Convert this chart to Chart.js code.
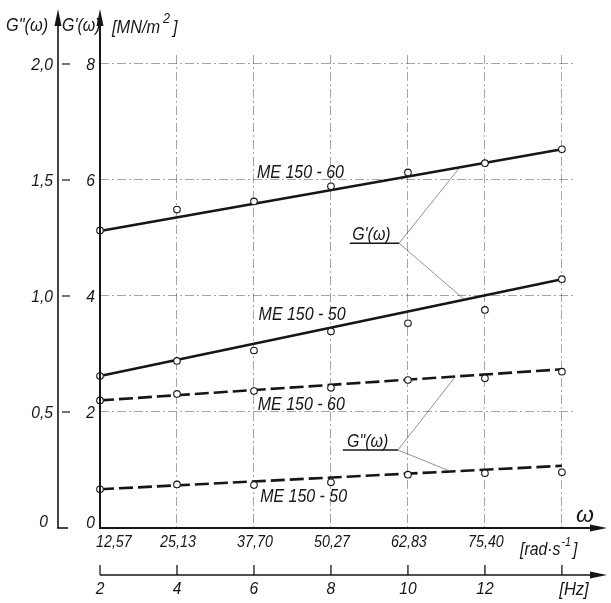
<!DOCTYPE html>
<html>
<head>
<meta charset="utf-8">
<script src="https://cdn.jsdelivr.net/npm/chart.js@4.4.1/dist/chart.umd.min.js"></script>
<style>
  html, body { margin: 0; padding: 0; background: #fff; }
  #wrap { width: 611px; height: 603px; }
</style>
</head>
<body>
<div id="wrap"><canvas id="modulusChart" width="611" height="603"></canvas></div>
<script>
// frequency (Hz) of the measuring points, and the omega scale above it
var freqHz = [2, 4, 6, 8, 10, 12, 14];
var omegaLabels = ["12,57", "25,13", "37,70", "50,27", "62,83", "75,40"];
var hzLabels = ["2", "4", "6", "8", "10", "12"];
var gPrimeTicks = [0, 2, 4, 6, 8];
var gPrimeLabels = ["0", "2", "4", "6", "8"];
var gDoubleTicks = [0, 0.5, 1.0, 1.5, 2.0];
var gDoubleLabels = ["0", "0,5", "1,0", "1,5", "2,0"];

// G'(w) in MN/m2, measured points
var gPrime60 = [5.13, 5.49, 5.63, 5.89, 6.13, 6.29, 6.53];
var gPrime50 = [2.62, 2.88, 3.06, 3.39, 3.53, 3.76, 4.29];
// G''(w) in MN/m2, measured points
var gDouble60 = [0.550, 0.578, 0.590, 0.604, 0.638, 0.645, 0.674];
var gDouble50 = [0.167, 0.188, 0.185, 0.197, 0.230, 0.236, 0.240];

// drawn straight lines, values at 2 and 14 Hz
var fitHz = [2, 14];
var gPrime60Fit = [5.12, 6.53];
var gPrime50Fit = [2.62, 4.29];
var gDouble60Fit = [0.55, 0.684];
var gDouble50Fit = [0.167, 0.268];

var ink = "#161616";
var gridInk = "rgba(40,40,40,0.42)";
var leaderInk = "rgba(60,60,60,0.7)";

function pts(xs, ys) {
  return xs.map(function (x, i) { return { x: x, y: ys[i] }; });
}

function markers(values, axis) {
  return {
    data: pts(freqHz, values),
    yAxisID: axis,
    showLine: false,
    pointRadius: 3.3,
    pointBorderWidth: 1.1,
    pointBackgroundColor: "#fff",
    pointBorderColor: ink,
    clip: false
  };
}

function fitLine(values, axis, dashed) {
  return {
    data: pts(fitHz, values),
    yAxisID: axis,
    borderColor: ink,
    borderWidth: 2.6,
    borderDash: dashed ? [14, 5] : [],
    pointRadius: 0,
    fill: false,
    clip: false
  };
}

// italic, slightly condensed lettering; returns the drawn width
function txt(ctx, s, x, y, size, align, sx) {
  sx = sx || 0.86;
  ctx.save();
  ctx.font = "italic " + size + "px 'Liberation Sans', Arial, sans-serif";
  ctx.textAlign = align || "left";
  ctx.textBaseline = "alphabetic";
  ctx.fillStyle = ink;
  var w = ctx.measureText(s).width * sx;
  ctx.translate(x, y);
  ctx.scale(sx, 1);
  ctx.fillText(s, 0, 0);
  ctx.restore();
  return w;
}

function seg(ctx, x1, y1, x2, y2, w, color) {
  ctx.beginPath();
  ctx.lineWidth = w;
  ctx.strokeStyle = color || ink;
  ctx.moveTo(x1, y1);
  ctx.lineTo(x2, y2);
  ctx.stroke();
}

function arrowUp(ctx, x, y) {
  ctx.beginPath();
  ctx.fillStyle = ink;
  ctx.moveTo(x, y);
  ctx.lineTo(x - 3.5, y + 17);
  ctx.lineTo(x + 3.5, y + 17);
  ctx.closePath();
  ctx.fill();
}

function arrowRight(ctx, x, y) {
  ctx.beginPath();
  ctx.fillStyle = ink;
  ctx.moveTo(x, y);
  ctx.lineTo(x - 17, y - 3.5);
  ctx.lineTo(x - 17, y + 3.5);
  ctx.closePath();
  ctx.fill();
}

var axesPlugin = {
  id: "drawnAxes",
  afterDraw: function (chart) {
    var ctx = chart.ctx;
    var sx = chart.scales.x, sy = chart.scales.y, sy1 = chart.scales.y1;
    var px = function (v) { return sx.getPixelForValue(v); };
    var py = function (v) { return sy.getPixelForValue(v); };
    var py1 = function (v) { return sy1.getPixelForValue(v); };
    var x0 = px(freqHz[0]);
    var yBase = py(0);
    var xG2 = 58;
    var yHz = 575;
    var w;

    ctx.save();
    // G' axis
    seg(ctx, x0, yBase + 1, x0, 24, 2);
    arrowUp(ctx, x0, 9);
    // G'' axis with foot
    seg(ctx, xG2, yBase, xG2, 24, 1.6);
    arrowUp(ctx, xG2, 9);
    seg(ctx, xG2 - 0.8, yBase, xG2 + 10, yBase, 1.6);
    // omega axis
    seg(ctx, x0 - 1, yBase, 592, yBase, 2);
    arrowRight(ctx, 607, yBase);
    // Hz axis
    seg(ctx, x0, yHz, 592, yHz, 1.5);
    arrowRight(ctx, 607, yHz);
    freqHz.forEach(function (f) {
      seg(ctx, px(f), yHz, px(f), yHz - 10, 1.3);
    });

    // G' tick labels
    gPrimeTicks.forEach(function (v, i) {
      var y = v === 0 ? yBase : py(v) + 6;
      txt(ctx, gPrimeLabels[i], x0 - 5, y, 17, "right", 0.92);
    });
    // G'' tick labels and ticks
    gDoubleTicks.forEach(function (v, i) {
      var y = py1(v);
      if (v === 0) {
        txt(ctx, gDoubleLabels[i], xG2 - 10, yBase - 1, 17, "right", 0.92);
      } else {
        txt(ctx, gDoubleLabels[i], xG2 - 5, y + 6, 17, "right", 0.92);
        seg(ctx, xG2 + 4, y, xG2 + 12, y, 1.2);
      }
    });

    // omega labels
    omegaLabels.forEach(function (s, i) {
      var x = px(freqHz[i]);
      if (i === 0) txt(ctx, s, x - 4, yBase + 19, 17, "left", 0.84);
      else txt(ctx, s, x + 1, yBase + 19, 17, "center", 0.84);
    });
    w = txt(ctx, "[rad\u00b7s", 520, yBase + 27, 18, "left", 0.88);
    w += txt(ctx, "-1", 521 + w, yBase + 18, 12, "left", 0.9);
    txt(ctx, "]", 523 + w, yBase + 27, 18, "left", 0.88);
    txt(ctx, "\u03c9", 585, yBase - 6, 23, "center", 1.0);

    // Hz labels
    hzLabels.forEach(function (s, i) {
      txt(ctx, s, px(freqHz[i]), yHz + 19, 17, "center", 0.92);
    });
    txt(ctx, "[Hz]", 574, yHz + 20, 18, "center", 0.92);

    // axis titles
    txt(ctx, 'G"(\u03c9)', 6, 31, 19, "left", 0.86);
    txt(ctx, "G'(\u03c9)", 62, 31, 19, "left", 0.84);
    w = txt(ctx, "[MN/m", 112, 33, 19, "left", 0.86);
    w += txt(ctx, "2", 115 + w, 23, 14, "left", 0.9);
    txt(ctx, "]", 118 + w, 33, 19, "left", 0.86);

    // curve labels
    txt(ctx, "ME 150 - 60", px(6.08), py(6.03), 19, "left", 0.84);
    txt(ctx, "ME 150 - 50", px(6.12), py(3.59), 19, "left", 0.84);
    txt(ctx, "ME 150 - 60", px(6.10), py(2.03), 19, "left", 0.84);
    txt(ctx, "ME 150 - 50", px(6.16), py(0.44), 19, "left", 0.84);

    // G'(w) leader
    txt(ctx, "G'(\u03c9)", px(8.55), py(4.97), 19, "left", 0.84);
    seg(ctx, px(8.49), py(4.91), px(9.77), py(4.91), 1.6);
    seg(ctx, px(9.77), py(4.91), px(11.35), py(6.22), 0.8, leaderInk);
    seg(ctx, px(9.77), py(4.91), px(11.48), py(3.93), 0.8, leaderInk);
    // G''(w) leader
    txt(ctx, 'G"(\u03c9)', px(8.42), py(1.4), 19, "left", 0.84);
    seg(ctx, px(8.31), py(1.345), px(9.74), py(1.345), 1.6);
    seg(ctx, px(9.74), py(1.345), px(11.22), py(2.60), 0.8, leaderInk);
    seg(ctx, px(9.74), py(1.345), px(11.09), py(0.98), 0.8, leaderInk);
    ctx.restore();
  }
};

var gridScale = function (ticks) {
  return {
    type: "linear",
    display: true,
    grid: { color: gridInk, lineWidth: 1, drawTicks: false },
    border: { display: false, dash: [9, 3, 2, 3] },
    ticks: { display: false },
    afterBuildTicks: function (scale) {
      scale.ticks = ticks.map(function (v) { return { value: v }; });
    }
  };
};

var xScale = gridScale(freqHz);
xScale.min = 2;
xScale.max = 14.34;
var yScale = gridScale(gPrimeTicks);
yScale.position = "left";
yScale.min = 0;
yScale.max = 8.155;

new Chart(document.getElementById("modulusChart").getContext("2d"), {
  type: "line",
  data: {
    datasets: [
      markers(gPrime60, "y"),
      markers(gPrime50, "y"),
      markers(gDouble60, "y1"),
      markers(gDouble50, "y1"),
      fitLine(gPrime60Fit, "y", false),
      fitLine(gPrime50Fit, "y", false),
      fitLine(gDouble60Fit, "y1", true),
      fitLine(gDouble50Fit, "y1", true)
    ]
  },
  options: {
    responsive: false,
    animation: false,
    events: [],
    layout: { padding: { left: 100, right: 36, top: 55, bottom: 75 } },
    plugins: { legend: { display: false }, tooltip: { enabled: false } },
    scales: {
      x: xScale,
      y: yScale,
      y1: { type: "linear", display: false, min: 0, max: 8.155 / 4 }
    }
  },
  plugins: [axesPlugin]
});
</script>
</body>
</html>
